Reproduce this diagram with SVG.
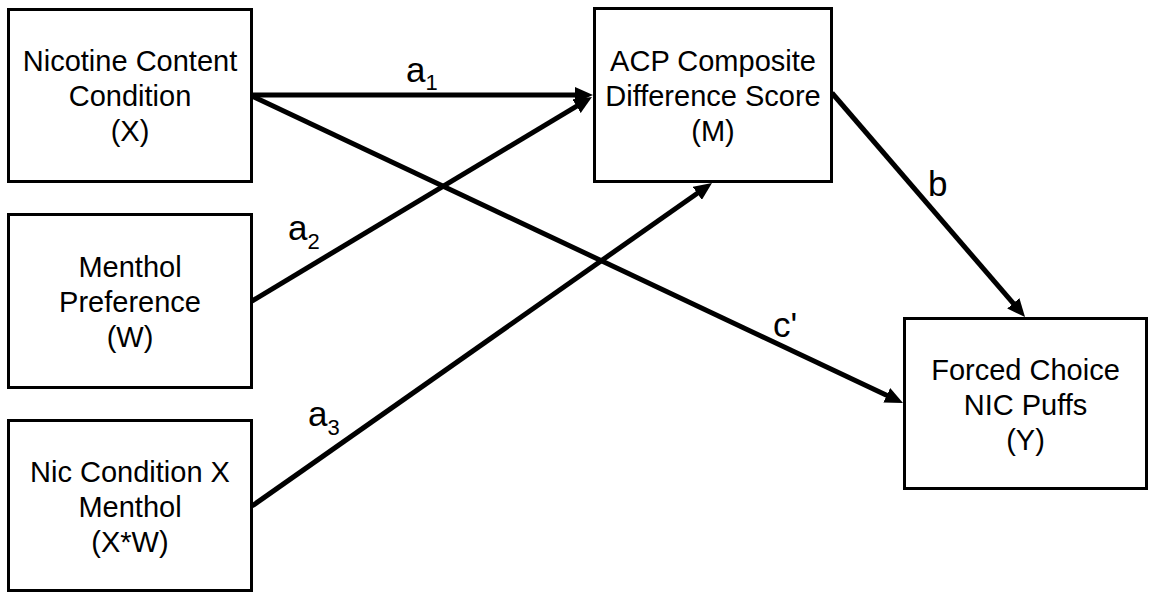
<svg xmlns="http://www.w3.org/2000/svg" width="1150" height="594" viewBox="0 0 1150 594">
<style>
.box{fill:#fff;stroke:#000;stroke-width:3}
.t{font-family:"Liberation Sans",Arial,sans-serif;font-size:29px;fill:#000;text-anchor:middle}
.lbl{font-family:"Liberation Sans",Arial,sans-serif;font-size:35px;fill:#000}
.sub{font-size:22px}
.edge{stroke:#000;stroke-width:5;fill:none;marker-end:url(#ah)}
</style>
<defs>
<marker id="ah" markerUnits="userSpaceOnUse" markerWidth="18" markerHeight="16" refX="8" refY="8" orient="auto">
<path d="M0,0 L18,8 L0,16 z" fill="#000"/>
</marker>
</defs>
<rect width="1150" height="594" fill="#fff"/>
<g id="connectors">
<line class="edge" x1="252" y1="95" x2="583" y2="95"/>
<line class="edge" x1="252" y1="96" x2="894" y2="398.7"/>
<line class="edge" x1="252" y1="301" x2="583.4" y2="102.1"/>
<line class="edge" x1="252" y1="506" x2="703.8" y2="188.75"/>
<line class="edge" x1="832" y1="93" x2="1018.5" y2="309.4"/>
<text class="lbl" x="406" y="82">a<tspan class="sub" dy="8">1</tspan></text>
<text class="lbl" x="288" y="240">a<tspan class="sub" dy="9">2</tspan></text>
<text class="lbl" x="308" y="426">a<tspan class="sub" dy="9">3</tspan></text>
<text class="lbl" x="928" y="196">b</text>
<text class="lbl" x="773" y="337">c'</text>
</g>
<g id="node-X">
<rect class="box" x="8.5" y="9.5" width="243" height="172"/>
<text class="t" x="130" y="71">Nicotine Content</text>
<text class="t" x="130" y="106">Condition</text>
<text class="t" x="130" y="141">(X)</text>
</g>
<g id="node-W">
<rect class="box" x="8.5" y="214.5" width="243" height="173"/>
<text class="t" x="130" y="277">Menthol</text>
<text class="t" x="130" y="312">Preference</text>
<text class="t" x="130" y="347">(W)</text>
</g>
<g id="node-XW">
<rect class="box" x="8.5" y="420.5" width="243" height="170"/>
<text class="t" x="130" y="482">Nic Condition X</text>
<text class="t" x="130" y="517">Menthol</text>
<text class="t" x="130" y="552">(X*W)</text>
</g>
<g id="node-M">
<rect class="box" x="594.5" y="8.5" width="237" height="173"/>
<text class="t" x="713" y="71">ACP Composite</text>
<text class="t" x="713" y="106">Difference Score</text>
<text class="t" x="713" y="141">(M)</text>
</g>
<g id="node-Y">
<rect class="box" x="904.5" y="318.5" width="242" height="170"/>
<text class="t" x="1025.5" y="380">Forced Choice</text>
<text class="t" x="1025.5" y="415">NIC Puffs</text>
<text class="t" x="1025.5" y="450">(Y)</text>
</g>
</svg>
